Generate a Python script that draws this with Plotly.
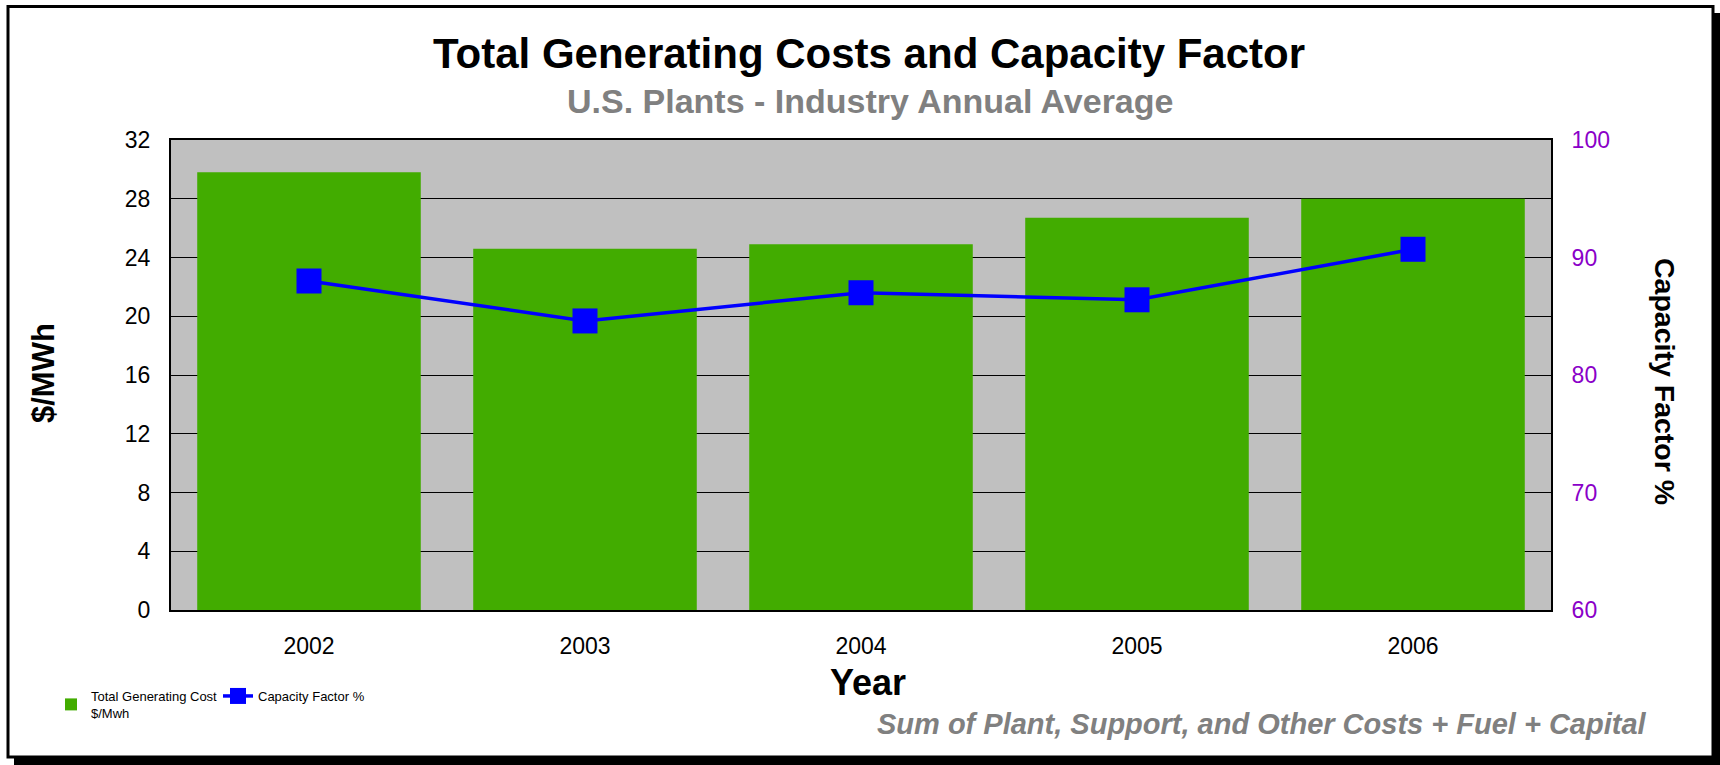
import plotly.graph_objects as go

# ---- data ----
years = ["2002", "2003", "2004", "2005", "2006"]
total_cost = [29.8, 24.6, 24.9, 26.7, 28.0]          # $/MWh
capacity_factor = [88.0, 84.6, 87.0, 86.4, 90.7]     # %
left_ticks = [0, 4, 8, 12, 16, 20, 24, 28, 32]
right_ticks = [60, 70, 80, 90, 100]

W, H = 1720, 765
L, R, T, B = 171, 1551, 140, 610   # plot area in pixels


def px(x):
    return (x - L) / (R - L)


def py(y):
    return (B - y) / (B - T)


FONT = "Liberation Sans, Arial, sans-serif"
PURPLE = "#8A00C8"

fig = go.Figure()
fig.add_trace(go.Bar(
    x=years, y=total_cost, name="Total Generating Cost<br>$/Mwh",
    marker=dict(color="#42AC00", line=dict(width=0)),
    legend="legend", yaxis="y",
))
fig.add_trace(go.Scatter(
    x=years, y=capacity_factor, name="Capacity Factor %",
    mode="lines+markers", yaxis="y2",
    line=dict(color="#0000FF", width=3.5),
    marker=dict(symbol="square", size=25, color="#0000FF", line=dict(width=0)),
    legend="legend2",
))

shapes = [
    # outer frame
    dict(type="rect", xref="paper", yref="paper", x0=px(8), x1=px(1713), y0=py(6.5), y1=py(757),
         line=dict(color="black", width=3), fillcolor="rgba(0,0,0,0)", layer="above"),
    # shadow bottom
    dict(type="rect", xref="paper", yref="paper", x0=px(14), x1=px(1720), y0=py(756), y1=py(765),
         line=dict(width=0), fillcolor="black", layer="above"),
    # shadow right
    dict(type="rect", xref="paper", yref="paper", x0=px(1712), x1=px(1720), y0=py(13), y1=py(765),
         line=dict(width=0), fillcolor="black", layer="above"),
]

annotations = [
    dict(text="<b>Total Generating Costs and Capacity Factor</b>", x=px(869), y=py(53),
         xref="paper", yref="paper", showarrow=False, xanchor="center", yanchor="middle",
         font=dict(family=FONT, size=42, color="black")),
    dict(text="<b>U.S. Plants - Industry Annual Average</b>", x=px(870), y=py(101),
         xref="paper", yref="paper", showarrow=False, xanchor="center", yanchor="middle",
         font=dict(family=FONT, size=34, color="#808080")),
    dict(text="<b>$/MWh</b>", x=px(43), y=py(373), textangle=-90,
         xref="paper", yref="paper", showarrow=False, xanchor="center", yanchor="middle",
         font=dict(family=FONT, size=31, color="black")),
    dict(text="<b>Capacity Factor %</b>", x=px(1665), y=py(381), textangle=90,
         xref="paper", yref="paper", showarrow=False, xanchor="center", yanchor="middle",
         font=dict(family=FONT, size=28.5, color="black")),
    dict(text="<b>Year</b>", x=px(868), y=py(682),
         xref="paper", yref="paper", showarrow=False, xanchor="center", yanchor="middle",
         font=dict(family=FONT, size=36, color="black")),
    dict(text="<b><i>Sum of Plant, Support, and Other Costs + Fuel + Capital</i></b>", x=px(1649), y=py(724),
         xref="paper", yref="paper", showarrow=False, xanchor="right", yanchor="middle",
         font=dict(family=FONT, size=29, color="#808080")),
]

fig.update_layout(
    width=W, height=H,
    margin=dict(l=L, r=W - R, t=T, b=H - B, autoexpand=False),
    paper_bgcolor="white", plot_bgcolor="#C0C0C0",
    font=dict(family=FONT, color="black"),
    bargap=0.19,
    showlegend=True,
    legend=dict(x=px(51), y=py(681), xanchor="left", yanchor="top", orientation="h",
                bgcolor="rgba(0,0,0,0)", font=dict(family=FONT, size=13, color="black")),
    legend2=dict(x=px(218), y=py(681), xanchor="left", yanchor="top", orientation="h",
                 bgcolor="rgba(0,0,0,0)", font=dict(family=FONT, size=13, color="black")),
    xaxis=dict(type="category", showline=True, linecolor="black", linewidth=2, mirror=True,
               showgrid=False, ticks="", tickfont=dict(size=23, color="black"),
               ticklabelstandoff=14),
    yaxis=dict(range=[0, 32], tickvals=left_ticks, showline=True, linecolor="black", linewidth=2,
               showgrid=True, gridcolor="black", gridwidth=1, zeroline=False, ticks="",
               tickfont=dict(size=23, color="black"), ticklabelstandoff=14),
    yaxis2=dict(range=[60, 100], tickvals=right_ticks, overlaying="y", side="right",
                showline=True, linecolor="black", linewidth=2, showgrid=False, zeroline=False,
                ticks="", tickfont=dict(size=23, color=PURPLE), ticklabelstandoff=14),
    shapes=shapes, annotations=annotations,
)

fig.write_html("out.html", config={"displayModeBar": False},
               post_script="document.body.style.margin='0';document.body.style.overflow='hidden';")
